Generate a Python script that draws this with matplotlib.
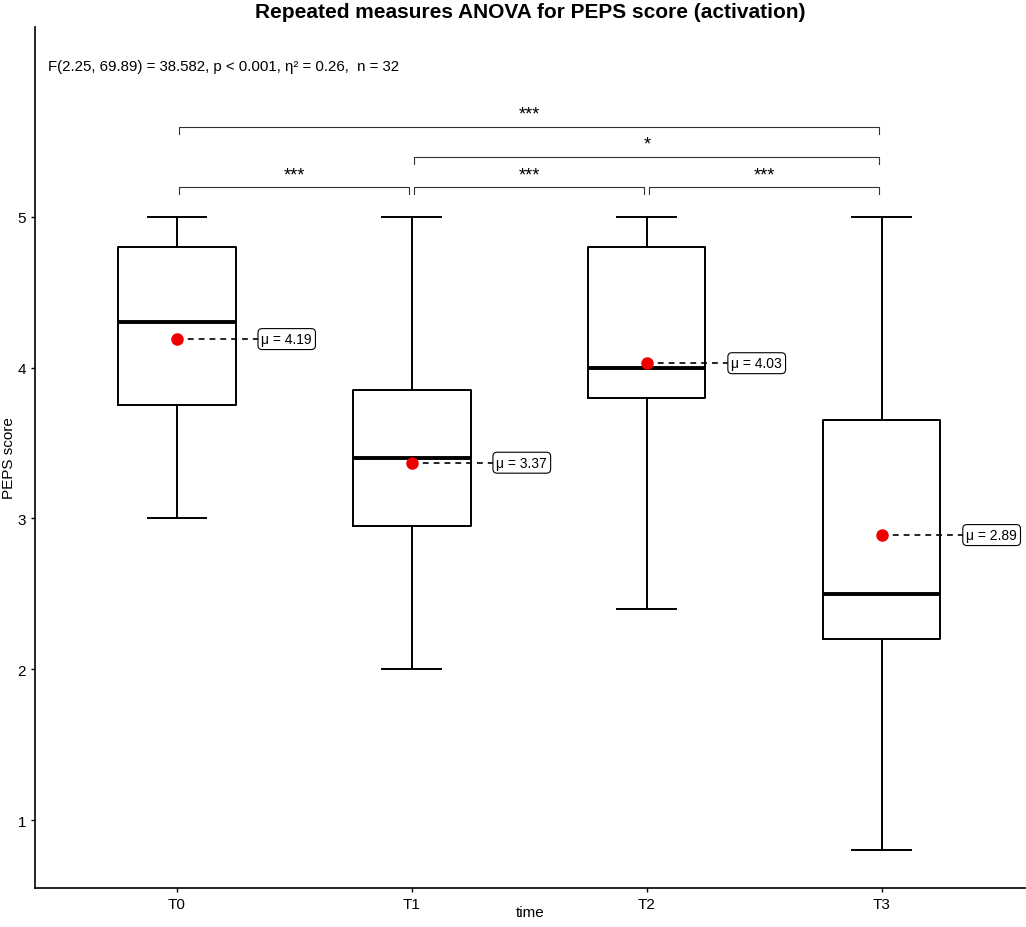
import matplotlib
matplotlib.use("Agg")
import matplotlib.pyplot as plt

plt.rcParams['font.family'] = ['Liberation Sans', 'DejaVu Sans']

# data
groups = ["T0", "T1", "T2", "T3"]
whisker_lo = [3.0, 2.0, 2.4, 0.8]
q1 = [3.75, 2.95, 3.80, 2.20]
medians = [4.30, 3.40, 4.00, 2.50]
q3 = [4.80, 3.85, 4.80, 3.65]
whisker_hi = [5.0, 5.0, 5.0, 5.0]
means = [4.19, 3.37, 4.03, 2.89]

# pairwise comparisons: (group a, group b, label, level)
pairs = [(0, 1, "***", 5.2), (1, 2, "***", 5.2), (2, 3, "***", 5.2),
         (1, 3, "*", 5.4), (0, 3, "***", 5.6)]

subtitle = "F(2.25, 69.89) = 38.582, p < 0.001, \u03b7\u00b2 = 0.26,  n = 32"

fig = plt.figure(figsize=(10.26, 9.28), dpi=100)
ax = fig.add_axes([35/1026, 39/928, 990/1026, 861/928])

stats = []
for i, g in enumerate(groups):
    stats.append(dict(label=g, whislo=whisker_lo[i], q1=q1[i], med=medians[i],
                      q3=q3[i], whishi=whisker_hi[i], fliers=[]))

pos = list(range(1, len(groups) + 1))
ax.bxp(stats, positions=pos, widths=0.5, showfliers=False,
       boxprops=dict(color='black', linewidth=1.4),
       whiskerprops=dict(color='black', linewidth=1.4),
       capprops=dict(color='black', linewidth=1.4),
       medianprops=dict(color='black', linewidth=2.8))

for p, m in zip(pos, means):
    ax.plot([p, p + 0.36], [m, m], color='black', linestyle=(0, (3.5, 3)), linewidth=1.2, zorder=3)
    ax.plot(p, m, 'o', color='#ee0000', markersize=8, zorder=4)
    ax.text(p + 0.36, m, "\u03bc = %.2f" % m, ha='left', va='center', fontsize=10,
            bbox=dict(boxstyle='round,pad=0.25,rounding_size=0.3', fc='white', ec='black', lw=0.8),
            zorder=5)

for a, b, lab, lev in pairs:
    xa, xb = pos[a] + 0.01, pos[b] - 0.01
    ax.plot([xa, xa, xb, xb], [lev - 0.05, lev, lev, lev - 0.05], color='#333333', linewidth=0.8)
    ax.text((pos[a] + pos[b]) / 2, lev + 0.025, lab, ha='center', va='bottom', fontsize=13)

ax.text(0.45, 6.0, subtitle, ha='left', va='center', fontsize=10.8)

ax.set_xlim(0.396, 4.61)
ax.set_ylim(0.549, 6.26)
ax.set_xticks(pos)
ax.set_xticklabels(groups)
ax.set_yticks([1, 2, 3, 4, 5])
ax.tick_params(labelsize=11, length=3, width=1, colors='black')
for s in ['top', 'right']:
    ax.spines[s].set_visible(False)
for s in ['left', 'bottom']:
    ax.spines[s].set_linewidth(1.2)

ax.set_xlabel("time", fontsize=11)
ax.set_ylabel("PEPS score", fontsize=11)
ax.xaxis.set_label_coords(0.5, -0.02)
ax.yaxis.set_label_coords(-0.019, 0.5)

fig.text(0.5166, 1 - 12/928, "Repeated measures ANOVA for PEPS score (activation)",
         ha='center', va='center', fontsize=15, fontweight='bold')

fig.savefig("out.png", dpi=100)
